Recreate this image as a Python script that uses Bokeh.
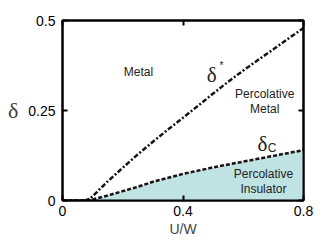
from bokeh.plotting import figure
from bokeh.models import LinearAxis, FixedTicker, Range1d
from bokeh.core.properties import value
from bokeh.embed import file_html
from bokeh.resources import INLINE

# data
u_star = [0.0, 0.05, 0.075, 0.09, 0.10, 0.15, 0.20, 0.25, 0.30, 0.35, 0.40, 0.45, 0.50, 0.55, 0.60, 0.65, 0.70, 0.75, 0.80]
d_star = [0.0, 0.0, 0.0, 0.005, 0.012, 0.053, 0.091, 0.128, 0.163, 0.197, 0.230, 0.263, 0.297, 0.330, 0.361, 0.391, 0.420, 0.450, 0.479]
u_c = [0.0, 0.05, 0.08, 0.10, 0.15, 0.20, 0.25, 0.30, 0.40, 0.50, 0.60, 0.70, 0.80]
d_c = [0.0, 0.0, 0.0, 0.003, 0.014, 0.026, 0.038, 0.052, 0.074, 0.092, 0.108, 0.124, 0.140]
x_ticks = [0, 0.4, 0.8]
y_ticks = [0, 0.25, 0.5]
x_tick_labels = {0: "0", 0.4: "0.4", 0.8: "0.8"}
y_tick_labels = {0: "0", 0.25: "0.25", 0.5: "0.5"}

sans = "Liberation Sans"
serif = "Liberation Serif"

p = figure(width=327, height=241, output_backend="svg", toolbar_location=None,
           x_range=Range1d(0, 0.8), y_range=Range1d(0, 0.5),
           min_border_left=62, min_border_right=24, min_border_top=20, min_border_bottom=41)
p.grid.visible = False
p.outline_line_color = "black"
p.outline_line_width = 2
p.background_fill_color = "white"
p.border_fill_color = "white"

for ax, ticks, labels in ((p.xaxis[0], x_ticks, x_tick_labels), (p.yaxis[0], y_ticks, y_tick_labels)):
    ax.ticker = FixedTicker(ticks=ticks)
    ax.major_label_overrides = labels
    ax.minor_tick_line_color = None
    ax.major_tick_in = 5
    ax.major_tick_out = 0
    ax.major_tick_line_width = 2
    ax.axis_line_width = 2
    ax.major_label_text_font = sans
    ax.major_label_text_font_size = "14px"
    ax.major_label_text_color = "black"

p.xaxis[0].axis_label = "U/W"
p.xaxis[0].axis_label_text_font = sans
p.xaxis[0].axis_label_text_font_style = "normal"
p.xaxis[0].axis_label_text_font_size = "14px"
p.xaxis[0].axis_label_standoff = 2
p.xaxis[0].major_label_standoff = 5

p.yaxis[0].axis_label = "δ"
p.yaxis[0].axis_label_text_font = serif
p.yaxis[0].axis_label_text_font_style = "normal"
p.yaxis[0].axis_label_text_font_size = "22px"
p.yaxis[0].axis_label_orientation = "horizontal"
p.yaxis[0].axis_label_standoff = 7
p.yaxis[0].major_label_standoff = 7

top = LinearAxis(ticker=FixedTicker(ticks=x_ticks), major_label_overrides={0: "", 0.4: "", 0.8: ""},
                 major_tick_in=5, major_tick_out=0, major_tick_line_width=2,
                 minor_tick_line_color=None, axis_line_width=2, major_label_standoff=0)
right = LinearAxis(ticker=FixedTicker(ticks=y_ticks), major_label_overrides={0: "", 0.25: "", 0.5: ""},
                   major_tick_in=5, major_tick_out=0, major_tick_line_width=2,
                   minor_tick_line_color=None, axis_line_width=2, major_label_standoff=0)
p.add_layout(top, "above")
p.add_layout(right, "right")

p.varea(x=u_c, y1=[0] * len(u_c), y2=d_c, fill_color="#bfe3e2")
p.line(u_star, d_star, line_color="#1a1212", line_width=2.5, line_dash="5 2 2 2")
p.line(u_c, d_c, line_color="#1a1212", line_width=2.5, line_dash="4 2")

def txt(x, y, s, font=sans, size="12px"):
    p.text(x=[x], y=[y], text=[s], text_font=value(font), text_font_size=size,
           text_align="center", text_baseline="middle", text_color="#222222")

txt(0.252, 0.358, "Metal")
txt(0.671, 0.297, "Percolative")
txt(0.671, 0.253, "Metal")
txt(0.667, 0.075, "Percolative")
txt(0.667, 0.031, "Insulator")
txt(0.495, 0.35, "δ", font=serif, size="21px")
txt(0.528, 0.374, "*", size="10px")
txt(0.664, 0.156, "δ", font=serif, size="21px")
txt(0.696, 0.145, "C", size="12px")

open("out.html", "w").write(file_html(p, INLINE))
